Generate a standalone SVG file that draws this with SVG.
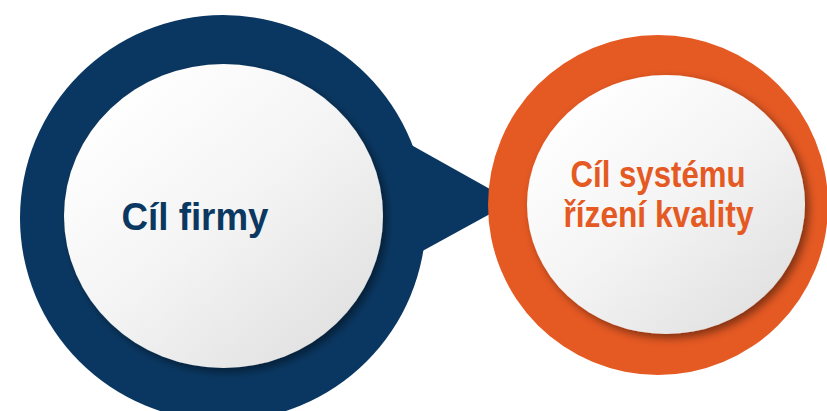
<svg xmlns="http://www.w3.org/2000/svg" width="827" height="411" viewBox="0 0 827 411">
  <defs>
    <linearGradient id="face" x1="0.15" y1="0.1" x2="0.85" y2="0.9">
      <stop offset="0" stop-color="#ffffff"/>
      <stop offset="0.5" stop-color="#f4f4f4"/>
      <stop offset="1" stop-color="#e2e2e2"/>
    </linearGradient>
    <filter id="shadow" x="-10%" y="-10%" width="125%" height="125%">
      <feDropShadow dx="4" dy="4" stdDeviation="4" flood-color="#000000" flood-opacity="0.45"/>
    </filter>
    <style>
      .blue { fill: #0a3761; }
      .orange { fill: #e55923; }
      .face { fill: url(#face); filter: url(#shadow); }
      .label { font-family: "Liberation Sans", Arial, sans-serif; font-weight: bold; text-anchor: middle; }
    </style>
  </defs>
  <rect width="827" height="411" fill="#ffffff"/>
  <g id="connectors">
    <polygon class="blue" points="380,127.5 512.5,201.7 390,268.8"/>
  </g>
  <g id="node-firma">
    <circle class="blue" cx="223" cy="218" r="203"/>
    <ellipse class="face" cx="223.5" cy="216" rx="159.5" ry="152"/>
    <text class="label" x="195" y="230" font-size="39.5" fill="#0b3861" textLength="147" lengthAdjust="spacingAndGlyphs">Cíl firmy</text>
  </g>
  <g id="node-kvalita">
    <circle class="orange" cx="658" cy="205" r="170"/>
    <ellipse class="face" cx="666" cy="204.5" rx="139" ry="129.5"/>
    <text class="label" x="658" y="187" font-size="36" fill="#e55923" textLength="175" lengthAdjust="spacingAndGlyphs">Cíl systému</text>
    <text class="label" x="658.5" y="227" font-size="36" fill="#e55923" textLength="190" lengthAdjust="spacingAndGlyphs">řízení kvality</text>
  </g>
</svg>
